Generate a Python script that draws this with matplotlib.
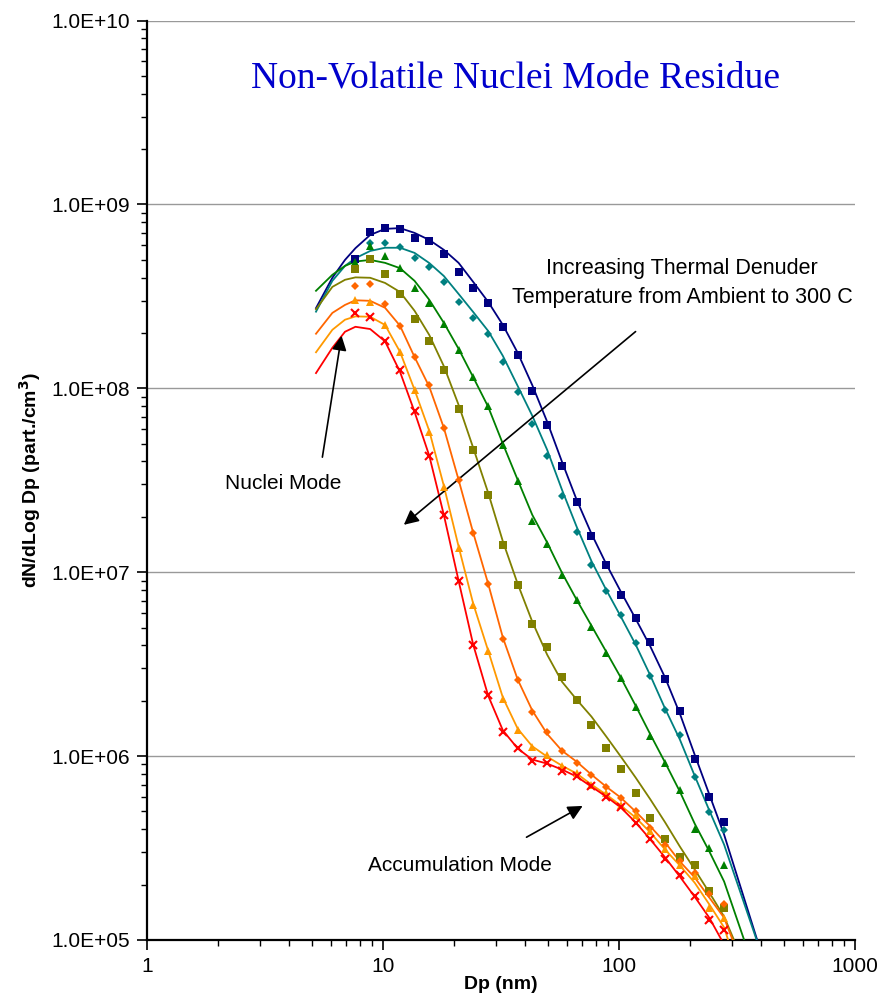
import numpy as np
import matplotlib
matplotlib.use("Agg")
from matplotlib import pyplot as plt
from matplotlib.ticker import LogLocator, FixedLocator, FuncFormatter, NullFormatter

# particle diameter channels (nm)
dp = [7.64, 8.82, 10.2, 11.8, 13.6, 15.7, 18.1, 20.9, 24.1, 27.9, 32.2, 37.2, 42.9,
      49.6, 57.3, 66.1, 76.4, 88.2, 101.8, 117.6, 135.8, 156.8, 181.1, 209.1, 241.4, 278.8]

# measured dN/dLogDp, ambient -> 300 C
navy_pts = [5.06e8, 7.11e8, 7.43e8, 7.36e8, 6.60e8, 6.33e8, 5.38e8, 4.28e8, 3.51e8, 2.90e8,
            2.15e8, 1.52e8, 9.68e7, 6.28e7, 3.79e7, 2.42e7, 1.58e7, 1.10e7, 7.48e6, 5.66e6,
            4.19e6, 2.61e6, 1.75e6, 9.6e5, 6.0e5, 4.4e5]
teal_pts = [np.nan, 6.20e8, 6.15e8, 5.85e8, 5.10e8, 4.59e8, 3.78e8, 2.94e8, 2.41e8, 1.97e8,
            1.39e8, 9.53e7, 6.41e7, 4.26e7, 2.58e7, 1.65e7, 1.10e7, 7.87e6, 5.87e6, 4.11e6,
            2.74e6, 1.77e6, 1.30e6, 7.74e5, 4.95e5, 3.94e5]
green_pts = [4.89e8, 5.95e8, 5.27e8, 4.50e8, 3.53e8, 2.90e8, 2.24e8, 1.62e8, 1.15e8, 7.98e7,
             4.93e7, 3.14e7, 1.91e7, 1.43e7, 9.66e6, 7.09e6, 5.02e6, 3.65e6, 2.66e6, 1.85e6,
             1.28e6, 9.18e5, 6.52e5, 4.03e5, 3.15e5, 2.55e5]
olive_pts = [4.46e8, 5.04e8, 4.18e8, 3.25e8, 2.38e8, 1.81e8, 1.26e8, 7.71e7, 4.59e7, 2.64e7,
             1.41e7, 8.47e6, 5.25e6, 3.93e6, 2.69e6, 2.01e6, 1.48e6, 1.10e6, 8.51e5, 6.31e5,
             4.60e5, 3.52e5, 2.82e5, 2.55e5, 1.84e5, 1.49e5]
dorange_pts = [3.61e8, 3.68e8, 2.87e8, 2.17e8, 1.48e8, 1.04e8, 6.12e7, 3.18e7, 1.63e7, 8.63e6,
               4.35e6, 2.59e6, 1.74e6, 1.36e6, 1.07e6, 9.18e5, 7.85e5, 6.76e5, 5.93e5, 5.01e5,
               4.07e5, 3.30e5, 2.68e5, 2.32e5, 1.77e5, 1.57e5]
orange_pts = [3.03e8, 2.96e8, 2.21e8, 1.57e8, 9.73e7, 5.82e7, 2.92e7, 1.36e7, 6.64e6, 3.73e6,
              2.05e6, 1.39e6, 1.12e6, 1.01e6, 8.87e5, 8.11e5, 7.00e5, 6.31e5, 5.45e5, 4.76e5,
              3.90e5, 3.14e5, 2.57e5, 2.22e5, 1.50e5, 1.31e5]
red_pts = [2.56e8, 2.44e8, 1.80e8, 1.25e8, 7.55e7, 4.30e7, 2.05e7, 8.99e6, 4.04e6, 2.14e6,
           1.36e6, 1.10e6, 9.46e5, 9.22e5, 8.34e5, 7.83e5, 6.85e5, 6.00e5, 5.27e5, 4.30e5,
           3.52e5, 2.77e5, 2.27e5, 1.73e5, 1.28e5, 1.14e5]

# fitted curves, read at 5.2, 6.1, 6.9 nm and then at the channels above
fit_start = [5.2, 6.1, 6.9]
navy_fit = [2.73e8, 3.99e8, 4.99e8, 5.78e8, 6.82e8, 7.36e8, 7.43e8, 7.0e8, 6.41e8, 5.66e8,
            4.81e8, 3.79e8, 2.95e8, 2.21e8, 1.56e8, 1.04e8, 6.58e7, 3.99e7, 2.48e7, 1.62e7,
            1.11e7, 7.83e6, 5.58e6, 3.94e6, 2.67e6, 1.70e6, 1.02e6, 6.18e5, 3.74e5]
teal_fit = [2.61e8, 3.84e8, 4.63e8, 5.10e8, 5.58e8, 5.81e8, 5.81e8, 5.45e8, 4.80e8, 4.08e8,
            3.26e8, 2.60e8, 2.05e8, 1.50e8, 1.03e8, 7.09e7, 4.63e7, 2.81e7, 1.77e7, 1.15e7,
            8.03e6, 5.73e6, 4.04e6, 2.74e6, 1.81e6, 1.23e6, 7.83e5, 5.06e5, 3.30e5]
green_fit = [3.39e8, 4.14e8, 4.63e8, 4.89e8, 4.99e8, 4.81e8, 4.50e8, 3.84e8, 3.03e8, 2.27e8,
             1.64e8, 1.15e8, 7.93e7, 4.99e7, 3.18e7, 2.05e7, 1.45e7, 9.93e6, 7.09e6, 5.12e6,
             3.70e6, 2.67e6, 1.88e6, 1.31e6, 9.22e5, 6.41e5, 4.30e5, 3.03e5, 2.08e5]
olive_fit = [2.69e8, 3.56e8, 3.89e8, 4.01e8, 3.99e8, 3.74e8, 3.34e8, 2.64e8, 1.95e8, 1.32e8,
             8.13e7, 4.75e7, 2.70e7, 1.47e7, 8.65e6, 5.38e6, 3.56e6, 2.54e6, 2.03e6, 1.64e6,
             1.28e6, 9.93e5, 7.64e5, 5.81e5, 4.36e5, 3.22e5, 2.42e5, 1.81e5, 1.34e5]
dorange_fit = [1.98e8, 2.57e8, 2.84e8, 3.01e8, 2.99e8, 2.74e8, 2.19e8, 1.48e8, 1.02e8, 6.10e7,
               3.18e7, 1.64e7, 8.65e6, 4.41e6, 2.61e6, 1.77e6, 1.32e6, 1.07e6, 9.33e5, 7.93e5,
               6.82e5, 5.94e5, 4.99e5, 4.14e5, 3.39e5, 2.67e5, 2.19e5, 1.70e5, 1.32e5]
orange_fit = [1.57e8, 2.08e8, 2.36e8, 2.46e8, 2.45e8, 2.21e8, 1.58e8, 9.82e7, 5.87e7, 2.95e7,
              1.38e7, 6.75e6, 3.74e6, 2.08e6, 1.41e6, 1.13e6, 9.93e5, 8.87e5, 8.04e5, 7.00e5,
              6.18e5, 5.38e5, 4.63e5, 3.84e5, 3.10e5, 2.54e5, 2.05e5, 1.56e5, 1.17e5]
red_fit = [1.21e8, 1.66e8, 2.03e8, 2.16e8, 2.10e8, 1.80e8, 1.23e8, 7.45e7, 4.30e7, 2.05e7,
           8.99e6, 4.04e6, 2.13e6, 1.38e6, 1.10e6, 9.57e5, 9.10e5, 8.45e5, 7.74e5, 6.82e5,
           6.03e5, 5.25e5, 4.36e5, 3.52e5, 2.81e5, 2.21e5, 1.72e5, 1.32e5]
# diameter where each fitted curve reaches the bottom of the axis (1e5)
fit_end = {"navy": 385, "teal": 383, "green": 339, "olive": 307,
           "dorange": 303, "orange": 290, "red": 272}

series = [
    ("navy", navy_pts, navy_fit, "#000080", "s", 5.8),
    ("teal", teal_pts, teal_fit, "#008080", "D", 4.4),
    ("green", green_pts, green_fit, "#008000", "^", 6.3),
    ("olive", olive_pts, olive_fit, "#808000", "s", 5.8),
    ("dorange", dorange_pts, dorange_fit, "#FF6600", "D", 4.4),
    ("orange", orange_pts, orange_fit, "#FF9900", "^", 6.3),
    ("red", red_pts, red_fit, "#FF0000", "x", 5.8),
]

plt.rcParams['font.family'] = ['Liberation Sans', 'DejaVu Sans']

fig = plt.figure(figsize=(8.82, 10.05), dpi=100)
ax = fig.add_axes([0.1667, 0.0647, 0.8027, 0.9149])

grid = fit_start + dp
for name, pts, fit, col, mk, ms in series:
    fx = grid[:len(fit)] + [fit_end[name]]
    fy = fit + [1e5]
    ax.plot(fx, fy, '-', color=col, lw=1.3, zorder=3, solid_joinstyle='round')
for name, pts, fit, col, mk, ms in series:
    if mk == 'x':
        ax.plot(dp, pts, mk, color=col, ms=ms, mew=1.5, zorder=4)
    else:
        ax.plot(dp, pts, mk, color=col, ms=ms, mew=0, zorder=4)

ax.set_xscale('log')
ax.set_yscale('log')
ax.set_xlim(1, 1000)
ax.set_ylim(1e5, 1e10)

ax.xaxis.set_major_locator(FixedLocator([1, 10, 100, 1000]))
ax.xaxis.set_major_formatter(FuncFormatter(lambda v, p: "%d" % v))
ax.xaxis.set_minor_locator(LogLocator(base=10, subs=np.arange(2, 10)))
ax.xaxis.set_minor_formatter(NullFormatter())
ax.yaxis.set_major_locator(FixedLocator([1e5, 1e6, 1e7, 1e8, 1e9, 1e10]))
ax.yaxis.set_major_formatter(FuncFormatter(lambda v, p: "%.1E" % v))
ax.yaxis.set_minor_locator(LogLocator(base=10, subs=np.arange(2, 10)))
ax.yaxis.set_minor_formatter(NullFormatter())

ax.tick_params(which='major', direction='out', length=7, width=1.2, labelsize=15, pad=5)
ax.tick_params(which='minor', direction='out', length=4, width=1)
ax.grid(axis='y', which='major', color='#999999', lw=1)
for s in ['top', 'right']:
    ax.spines[s].set_visible(False)
for s in ['left', 'bottom']:
    ax.spines[s].set_linewidth(1.6)

ax.set_xlabel("Dp (nm)", fontsize=14, fontweight='bold', labelpad=0)
ax.set_ylabel("dN/dLog Dp (part./cm$^\\mathbf{3}$)", fontsize=14, fontweight='bold', labelpad=6)

ax.text(0.52, 0.9375, "Non-Volatile Nuclei Mode Residue", transform=ax.transAxes,
        ha='center', va='center', fontsize=27, color='#0000CC', family='Liberation Serif')

ax.text(185, 3.74e8, "Increasing Thermal Denuder\nTemperature from Ambient to 300 C",
        ha='center', va='center', fontsize=15.5, linespacing=1.55)
ax.annotate("", xy=(12.0, 1.77e7), xytext=(120, 2.08e8),
            arrowprops=dict(arrowstyle='-|>', color='black', lw=1.2, mutation_scale=22))

ax.text(3.77, 3.03e7, "Nuclei Mode", ha='center', va='center', fontsize=15)
ax.annotate("", xy=(6.7, 2.0e8), xytext=(5.51, 4.08e7),
            arrowprops=dict(arrowstyle='-|>', color='black', lw=1.2, mutation_scale=22))

ax.text(21.2, 2.54e5, "Accumulation Mode", ha='center', va='center', fontsize=15)
ax.annotate("", xy=(71.8, 5.45e5), xytext=(39.6, 3.56e5),
            arrowprops=dict(arrowstyle='-|>', color='black', lw=1.2, mutation_scale=22))

fig.savefig("out.png", dpi=100)
